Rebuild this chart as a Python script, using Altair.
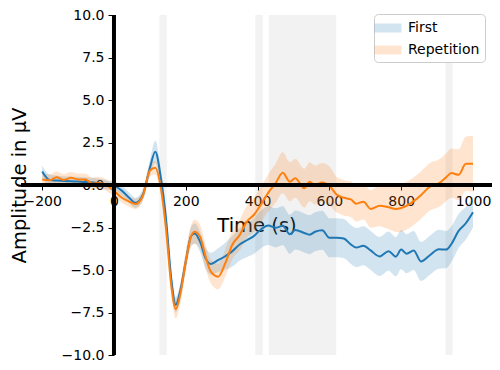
import altair as alt
import pandas as pd

# ---------------- data ----------------
TIME = [-200, -180, -160, -140, -120, -100, -80, -60, -40, -20,
        0, 20, 40, 60, 80, 100, 115, 130, 145, 160,
        172, 185, 200, 215, 225, 240, 255, 270, 290, 310,
        330, 350, 370, 390, 410, 430, 450, 470, 490, 505,
        530, 545, 560, 580, 600, 620, 640, 660, 675, 695,
        715, 740, 765, 785, 800, 815, 835, 855, 880, 905,
        925, 940, 960, 980, 1000]

FIRST = [0.79, 0.30, 0.26, 0.24, 0.22, 0.20, 0.18, 0.15, 0.10, 0.00,
         -0.05, -0.30, -0.70, -1.05, -0.60, 1.00, 1.95, 0.50, -2.00, -5.60,
         -7.05, -6.20, -4.50, -3.00, -2.85, -3.35, -4.30, -4.64, -4.42, -4.19,
         -3.89, -3.50, -3.25, -3.00, -2.60, -2.38, -2.52, -2.40, -2.90, -2.65,
         -2.82, -2.92, -2.75, -2.66, -3.10, -3.10, -3.15, -3.50, -3.68, -3.57,
         -3.85, -4.20, -3.89, -4.22, -3.80, -4.04, -3.85, -4.50, -4.13, -3.78,
         -3.80, -3.47, -2.70, -2.25, -1.60]

REPETITION = [0.32, 0.28, 0.45, 0.30, 0.42, 0.33, 0.32, 0.08, 0.12, -0.02,
              -0.35, -0.72, -0.95, -1.12, -0.66, 0.85, 1.02, -0.10, -2.60, -6.00,
              -7.30, -6.40, -4.50, -3.00, -2.75, -3.05, -4.20, -5.10, -5.39, -4.60,
              -3.50, -2.95, -2.15, -1.75, -1.13, -0.45, 0.10, 0.72, 0.19, 0.40,
              -0.19, 0.19, 0.00, 0.15, -0.05, -0.56, -0.75, -0.85, -1.10, -0.98,
              -1.41, -1.22, -1.31, -1.41, -1.35, -1.22, -0.95, -0.60, -0.10, 0.10,
              0.45, 0.70, 0.60, 1.25, 1.25]

FIRST_HW = [0.35, 0.32, 0.30, 0.28, 0.28, 0.28, 0.28, 0.27, 0.27, 0.27,
            0.27, 0.28, 0.30, 0.30, 0.32, 0.45, 0.65, 0.55, 0.45, 0.45,
            0.45, 0.45, 0.50, 0.55, 0.60, 0.60, 0.62, 0.65, 0.70, 0.80,
            0.90, 0.95, 1.00, 1.05, 1.10, 1.15, 1.15, 1.15, 1.15, 1.15,
            1.15, 1.15, 1.15, 1.15, 1.15, 1.15, 1.15, 1.15, 1.15, 1.15,
            1.15, 1.15, 1.15, 1.15, 1.15, 1.15, 1.15, 1.15, 1.15, 1.15,
            1.10, 1.05, 1.00, 0.95, 0.90]

REPETITION_HW = [0.35, 0.35, 0.35, 0.35, 0.35, 0.35, 0.35, 0.35, 0.35, 0.35,
                 0.30, 0.30, 0.30, 0.30, 0.30, 0.35, 0.40, 0.40, 0.45, 0.50,
                 0.55, 0.55, 0.60, 0.65, 0.70, 0.70, 0.70, 0.70, 0.75, 0.80,
                 0.85, 0.90, 0.95, 1.00, 1.05, 1.10, 1.15, 1.20, 1.15, 1.15,
                 1.15, 1.15, 1.15, 1.15, 1.15, 1.05, 1.05, 1.05, 1.05, 1.05,
                 1.10, 1.20, 1.30, 1.35, 1.40, 1.40, 1.40, 1.40, 1.40, 1.40,
                 1.40, 1.45, 1.50, 1.60, 1.65]

SERIES = ["First", "Repetition"]
COLORS = ["#1f77b4", "#ff7f0e"]

SPAN_START = [126.5, 393.5, 431.5, 923.5]
SPAN_END = [147.0, 414.5, 619.0, 943.0]

X_TICKS = [-200, 0, 200, 400, 600, 800, 1000]
Y_TICKS = [-10, -7.5, -5, -2.5, 0, 2.5, 5, 7.5, 10]
ZERO = [0]

# ---------------- tables ----------------
rows = []
for name, vals, hws in zip(SERIES, [FIRST, REPETITION], [FIRST_HW, REPETITION_HW]):
    for t, v, h in zip(TIME, vals, hws):
        rows.append({"t": t, "v": v, "lo": v - h, "hi": v + h, "series": name})
df = pd.DataFrame(rows)
spans = pd.DataFrame({"start": SPAN_START, "end": SPAN_END})
zero = pd.DataFrame({"z": ZERO})

# ---------------- layout ----------------
W, H = 471, 340
XDOM = [-259, 1053]
Y_OFF = -round((0 - XDOM[0]) / (XDOM[1] - XDOM[0]) * W, 1)
FONT = "DejaVu Sans"

xscale = alt.Scale(domain=XDOM, nice=False, zero=False)
yscale = alt.Scale(domain=[-10, 10], nice=False, zero=False)

xaxis = alt.Axis(
    values=X_TICKS, format="d", title="Time (s)", domain=False, grid=False,
    offset=-H / 2, tickSize=5, tickWidth=1, tickColor="black",
    labelFont=FONT, labelFontSize=14, labelColor="black", labelPadding=4,
    labelFlush=False, labelOverlap=False,
    titleFont=FONT, titleFontSize=19.5, titleFontWeight="normal", titleColor="black",
    titleY=46, titleBaseline="alphabetic", zindex=0,
)
yaxis = alt.Axis(
    values=Y_TICKS, format=".1f", title="Amplitude in μV", domain=False, grid=False,
    offset=Y_OFF, tickSize=6, tickWidth=1, tickColor="black",
    labelFont=FONT, labelFontSize=14, labelColor="black", labelPadding=4,
    labelOverlap=False,
    titleFont=FONT, titleFontSize=19.5, titleFontWeight="normal", titleColor="black",
    titleX=-89, titleY=170, titleAngle=270, titleAlign="center",
    titleBaseline="alphabetic", zindex=0,
)

legend = alt.Legend(
    title=None, orient="none", legendX=353, legendY=-1,
    symbolType="M-1.5,-0.5H1.5V0.5H-1.5Z", symbolSize=324,
    symbolOpacity=0.2, symbolStrokeWidth=0,
    labelFont=FONT, labelFontSize=14, labelColor="black", labelOffset=11,
    rowPadding=6, padding=5, fillColor="white", strokeColor="#cccccc",
    cornerRadius=4,
)

span_layer = alt.Chart(spans).mark_rect(color="#808080", opacity=0.1).encode(
    x=alt.X("start:Q", scale=xscale, axis=xaxis),
    x2="end:Q",
)

band_layer = alt.Chart(df).mark_area(opacity=0.2, interpolate="monotone").encode(
    x=alt.X("t:Q", scale=xscale, axis=xaxis),
    y=alt.Y("lo:Q", scale=yscale, axis=yaxis),
    y2="hi:Q",
    fill=alt.Fill("series:N", scale=alt.Scale(domain=SERIES, range=COLORS), legend=legend),
)

line_layer = alt.Chart(df).mark_line(strokeWidth=2, interpolate="monotone").encode(
    x=alt.X("t:Q", scale=xscale, axis=xaxis),
    y=alt.Y("v:Q", scale=yscale, axis=yaxis),
    stroke=alt.Stroke("series:N", scale=alt.Scale(domain=SERIES, range=COLORS), legend=None),
)

hrule = alt.Chart(zero).mark_rule(color="black", strokeWidth=4).encode(
    y=alt.Y("z:Q", scale=yscale, axis=yaxis),
)
vrule = alt.Chart(zero).mark_rule(color="black", strokeWidth=4).encode(
    x=alt.X("z:Q", scale=xscale, axis=xaxis),
)

chart = alt.layer(span_layer, band_layer, line_layer, hrule, vrule).properties(
    width=W, height=H,
    padding={"left": 13, "top": 7, "right": 0, "bottom": 7},
    autosize=alt.AutoSizeParams(type="none"),
).configure_view(stroke=None)

chart.save("out.html", embed_options={"renderer": "svg", "actions": False})
